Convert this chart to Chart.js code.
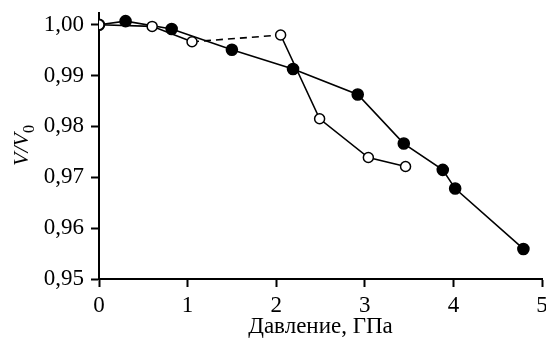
<!DOCTYPE html>
<html>
<head>
<meta charset="utf-8">
<script src="https://cdn.jsdelivr.net/npm/chart.js@4"></script>
<style>
  body { margin: 0; background: #fff; }
</style>
</head>
<body>
<canvas id="grafica" width="546" height="338"></canvas>
<script>
// datos
const presionLlenos = [0, 0.3, 0.82, 1.5, 2.19, 2.92, 3.44, 3.88, 4.02, 4.79];
const volumenLlenos = [1.0, 1.0007, 0.99915, 0.99508, 0.99128, 0.98628, 0.97663, 0.97146, 0.96778, 0.95591];

const presionHuecos = [0, 0.6, 1.05, 2.05, 2.49, 3.04, 3.46];
const volumenHuecos = [1.0, 0.99967, 0.99665, 0.99797, 0.9815, 0.97388, 0.97211];

const xTicks = [0, 1, 2, 3, 4, 5];
const yTicks = [0.95, 0.96, 0.97, 0.98, 0.99, 1.0];

const fuente = "'Liberation Serif', 'Times New Roman', serif";

function puntos(xs, ys) {
  return xs.map((x, i) => ({ x: x, y: ys[i] }));
}

// titulo del eje Y con subindice
const tituloY = {
  id: "tituloY",
  afterDraw(chart) {
    const ctx = chart.ctx;
    ctx.save();
    ctx.translate(28, 166);
    ctx.rotate(-Math.PI / 2);
    ctx.fillStyle = "#000";
    ctx.textBaseline = "alphabetic";
    ctx.textAlign = "left";
    ctx.font = "italic 22px " + fuente;
    const t = "V/V";
    ctx.fillText(t, 0, 0);
    const w = ctx.measureText(t).width;
    ctx.font = "16px " + fuente;
    ctx.fillText("0", w, 6);
    ctx.restore();
  },
};

const ctx = document.getElementById("grafica");

new Chart(ctx, {
  type: "scatter",
  data: {
    datasets: [
      {
        label: "huecos",
        data: puntos(presionHuecos, volumenHuecos),
        showLine: true,
        borderColor: "#000",
        borderWidth: 1.6,
        backgroundColor: "#fff",
        pointBackgroundColor: "#fff",
        pointBorderColor: "#000",
        pointBorderWidth: 1.5,
        pointRadius: 5,
        segment: {
          borderDash: (c) => (c.p0DataIndex === 2 ? [7, 5] : undefined),
        },
      },
      {
        label: "llenos",
        data: puntos(presionLlenos, volumenLlenos),
        showLine: true,
        borderColor: "#000",
        borderWidth: 1.6,
        backgroundColor: "#000",
        pointBackgroundColor: "#000",
        pointBorderColor: "#000",
        pointRadius: 5.5,
      },
    ],
  },
  plugins: [tituloY],
  options: {
    responsive: false,
    animation: false,
    layout: { autoPadding: false, padding: { left: 0, right: 4, top: 13, bottom: 0 } },
    plugins: {
      legend: { display: false },
      tooltip: { enabled: false },
    },
    scales: {
      x: {
        type: "linear",
        min: 0,
        max: 5,
        afterBuildTicks: (s) => { s.ticks = xTicks.map((v) => ({ value: v })); },
        afterFit: (s) => { s.paddingRight = 0; s.paddingLeft = 0; s.height = 59; },
        border: { display: true, color: "#000", width: 2 },
        grid: { drawOnChartArea: false, drawTicks: true, tickLength: 8, color: "#000", tickWidth: 2 },
        ticks: {
          color: "#000",
          padding: 5,
          maxRotation: 0,
          font: { family: fuente, size: 23 },
          callback: (v) => String(v),
        },
        title: {
          display: true,
          text: "Давление, ГПа",
          color: "#000",
          padding: { top: 0, bottom: -3 },
          font: { family: fuente, size: 23 },
        },
      },
      y: {
        type: "linear",
        min: 0.95,
        max: 1.0023,
        afterBuildTicks: (s) => { s.ticks = yTicks.map((v) => ({ value: v })); },
        afterFit: (s) => { s.width = 99; s.paddingTop = 0; s.paddingBottom = 0; },
        border: { display: true, color: "#000", width: 2 },
        grid: { drawOnChartArea: false, drawTicks: true, tickLength: 8, color: "#000", tickWidth: 2 },
        ticks: {
          color: "#000",
          padding: 7,
          font: { family: fuente, size: 23 },
          callback: (v) => v.toFixed(2).replace(".", ","),
        },
      },
    },
  },
});
</script>
</body>
</html>
